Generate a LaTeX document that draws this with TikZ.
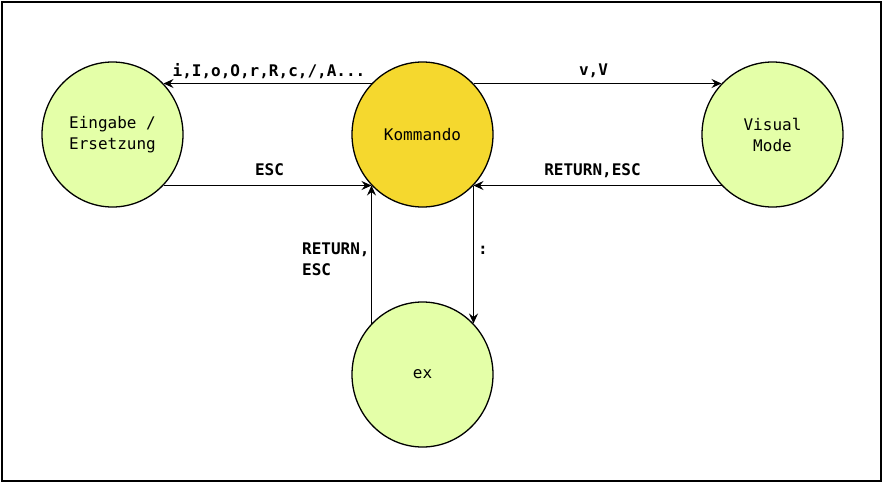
\documentclass[tikz,border=0pt]{standalone}
\usepackage{fontspec}
\newfontfamily\dejamono{DejaVu Sans Mono}
\usetikzlibrary{shapes.geometric,arrows.meta}
\definecolor{stategreen}{HTML}{E4FFA8}
\definecolor{stateyellow}{HTML}{F5D82E}
\tikzset{
  state/.style={ellipse, draw=black, line width=1.3pt, minimum width=141pt, minimum height=145pt,
    inner sep=0pt, align=center, font=\dejamono\fontsize{16}{21}\selectfont, fill=stategreen},
  conn/.style={draw=black, line width=1.3pt, -{Stealth[length=10pt,width=9pt,inset=3.5pt]}},
  lbl/.style={font=\dejamono\bfseries\fontsize{16}{20.5}\selectfont, inner sep=0pt},
}
\begin{document}
\begin{tikzpicture}[x=1pt,y=-1pt]
\useasboundingbox (0,0) rectangle (883,483);
\draw[line width=1.3pt] (2,2) rectangle (881,481);
\node[state] (e) at (112.5,134.5) {Eingabe /\\Ersetzung};
\node[state, fill=stateyellow] (k) at (422.5,134.5) {Kommando};
\node[state] (v) at (772.5,134.5) {Visual\\Mode};
\node[state] (x) at (422.5,374.5) {ex};
\draw[conn] (k.135) -- (e.45) node[lbl, midway, anchor=base, yshift=7pt, xshift=1.5pt] {i,I,o,O,r,R,c,/,A...};
\draw[conn] (e.-45) -- (k.-135) node[lbl, midway, anchor=base, yshift=10pt, xshift=2pt] {ESC};
\draw[conn] (k.45) -- (v.135) node[lbl, midway, anchor=base, yshift=8pt, xshift=-4pt] {v,V};
\draw[conn] (v.-135) -- (k.-45) node[lbl, midway, anchor=base, yshift=10pt, xshift=-5pt] {RETURN,ESC};
\draw[conn] (x.135) -- (k.-135);
\draw[conn] (k.-45) -- (x.45);
\node[lbl, anchor=west, align=left] (lr) at (302,259.5) {RETURN,\\ESC};
\node[lbl, anchor=base] (lc) at (483,254) {:};
\end{tikzpicture}
\end{document}
